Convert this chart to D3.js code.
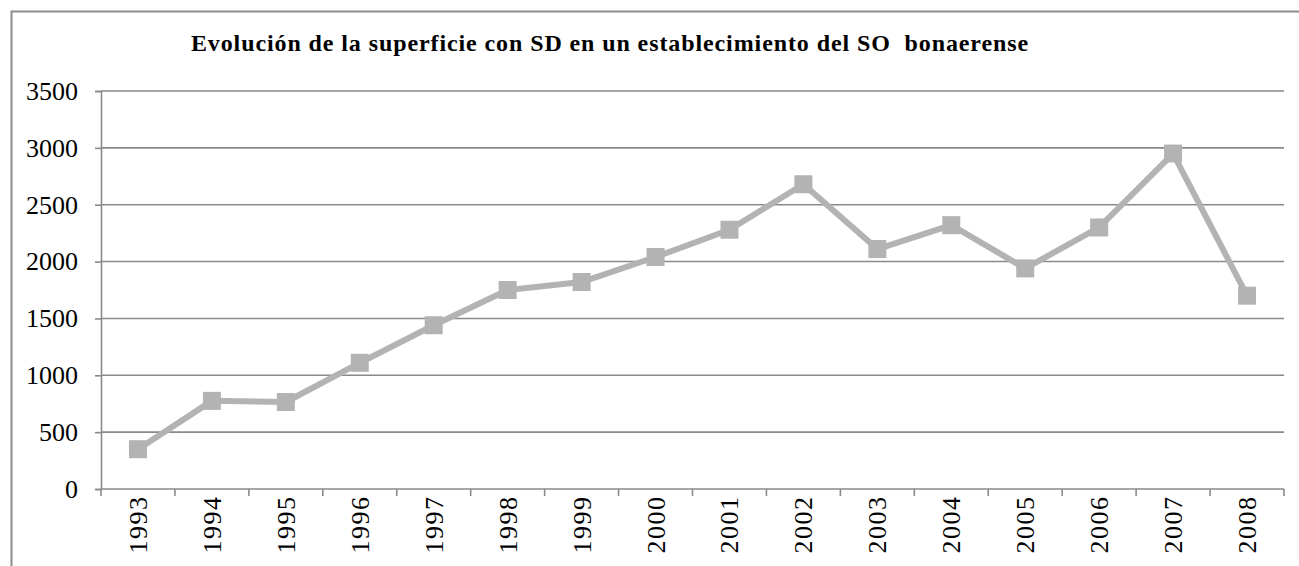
<!DOCTYPE html>
<html>
<head>
<meta charset="utf-8">
<script src="https://cdn.jsdelivr.net/npm/d3@7"></script>
<style>
  html, body { margin: 0; padding: 0; background: #fff; }
  text { font-family: "Liberation Serif", "Times New Roman", serif; }
</style>
</head>
<body>
<div id="chart"></div>
<script>
// --- data ---
const years  = ["1993","1994","1995","1996","1997","1998","1999","2000",
                "2001","2002","2003","2004","2005","2006","2007","2008"];
const values = [350, 775, 765, 1110, 1440, 1750, 1820, 2040,
                2280, 2680, 2110, 2320, 1940, 2300, 2950, 1700];
const yTicks = [0, 500, 1000, 1500, 2000, 2500, 3000, 3500];
const title  = "Evolución de la superficie con SD en un establecimiento del SO  bonaerense";

// --- sizing ---
const W = 1299, H = 566;
const margin = { top: 91, right: 15, bottom: 77, left: 101 },
      width  = W - margin.left - margin.right,
      height = H - margin.top - margin.bottom;

const root = d3.select("#chart").append("svg")
  .attr("width", W).attr("height", H);

// outer frame (left + top edges visible)
root.append("path")
  .attr("d", `M11.5,${H} L11.5,11.5 L${W},11.5`)
  .attr("fill", "none")
  .attr("stroke", "#8c8c8c")
  .attr("stroke-width", 2);

// title
root.append("text")
  .attr("x", 610)
  .attr("y", 51)
  .attr("text-anchor", "middle")
  .attr("xml:space", "preserve")
  .style("white-space", "pre")
  .style("font-size", "24px")
  .style("letter-spacing", "0.9px")
  .style("font-weight", "bold")
  .text(title);

const svg = root.append("g")
  .attr("transform", `translate(${margin.left},${margin.top})`);

// --- scales ---
const x = d3.scaleBand().domain(years).range([0, width]);
const y = d3.scaleLinear().domain([0, 3500]).range([height, 0]);

// gridlines
svg.append("g")
  .selectAll("line")
  .data(yTicks.filter(d => d > 0))
  .join("line")
  .attr("x1", 0).attr("x2", width)
  .attr("y1", d => y(d)).attr("y2", d => y(d))
  .attr("stroke", "#8a8a8a")
  .attr("stroke-width", 1.6);

// y axis
const yAxis = svg.append("g")
  .call(d3.axisLeft(y).tickValues(yTicks).tickSize(6).tickPadding(17).tickFormat(d3.format("d")));
yAxis.selectAll("path, line").attr("stroke", "#8a8a8a").attr("stroke-width", 1.6);
yAxis.selectAll("text")
  .attr("fill", "#000")
  .style("font-size", "26px")
  .style("font-family", "'Liberation Serif', serif");

// x axis: ticks at category boundaries
const xAxisG = svg.append("g").attr("transform", `translate(0,${height})`);
xAxisG.append("line")
  .attr("x1", 0).attr("x2", width)
  .attr("stroke", "#8a8a8a").attr("stroke-width", 1.6);
xAxisG.selectAll(".tk")
  .data(years.concat(["end"]))
  .join("line")
  .attr("class", "tk")
  .attr("x1", (d, i) => i < years.length ? x(d) : width)
  .attr("x2", (d, i) => i < years.length ? x(d) : width)
  .attr("y1", 0).attr("y2", 7)
  .attr("stroke", "#8a8a8a").attr("stroke-width", 1.6);
xAxisG.selectAll(".lbl")
  .data(years)
  .join("text")
  .attr("class", "lbl")
  .attr("transform", d => `translate(${x(d) + x.bandwidth() / 2 + 9},${6.5}) rotate(-90)`)
  .attr("text-anchor", "end")
  .style("font-size", "26px")
  .style("letter-spacing", "1.5px")
  .text(d => d);

// --- series ---
const pts = years.map((yr, i) => ({ yr, v: values[i] }));
const line = d3.line()
  .x(d => x(d.yr) + x.bandwidth() / 2)
  .y(d => y(d.v));

svg.append("path")
  .datum(pts)
  .attr("fill", "none")
  .attr("stroke", "#b3b3b3")
  .attr("stroke-width", 6)
  .attr("stroke-linejoin", "round")
  .attr("d", line);

const ms = 18;
svg.selectAll(".mk")
  .data(pts)
  .join("rect")
  .attr("class", "mk")
  .attr("x", d => x(d.yr) + x.bandwidth() / 2 - ms / 2)
  .attr("y", d => y(d.v) - ms / 2)
  .attr("width", ms).attr("height", ms)
  .attr("fill", "#b3b3b3");
</script>
</body>
</html>
